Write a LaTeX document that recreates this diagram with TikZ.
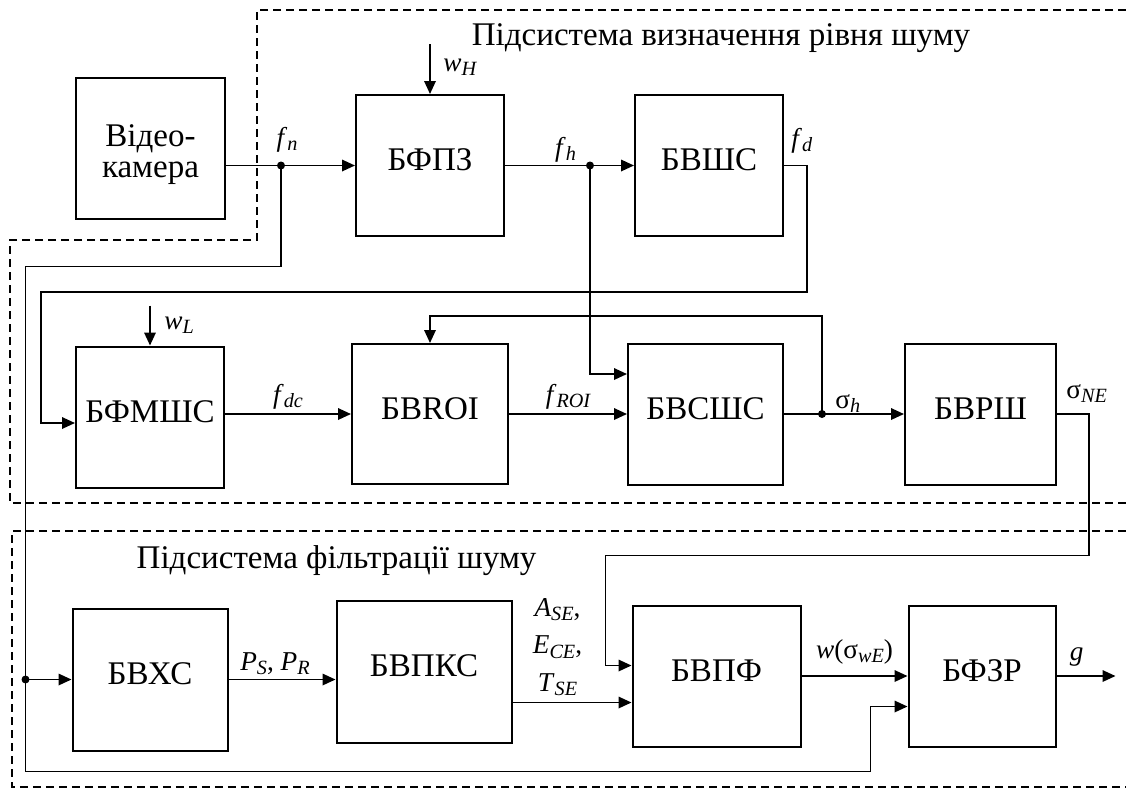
\documentclass[tikz,border=0pt]{standalone}
\usepackage{fontspec}
\setmainfont{Liberation Serif}
\usetikzlibrary{arrows.meta,positioning,calc}
\newcommand{\sbs}[1]{\raisebox{-0.15em}{\fontsize{11.5}{12}\selectfont\itshape #1}}
\newcommand{\sig}[2]{\textit{#1}\sbs{#2}}

\begin{document}
\begin{tikzpicture}[
  blok/.style={draw, line width=0.4mm, minimum width=29.6mm, minimum height=28.2mm, inner sep=0pt, font=\fontsize{18.8}{17.6}\selectfont, text height=4.6mm, text depth=2.6mm},
  camera/.style={draw, line width=0.4mm, minimum width=29.8mm, minimum height=28.2mm, inner sep=0pt, align=center, font=\fontsize{18.8}{17.6}\selectfont},
  lbl/.style={inner sep=0.8mm, font=\fontsize{15.5}{21.3}\selectfont},
  title/.style={font=\fontsize{18.8}{20}\selectfont, anchor=base},
  arr/.style={-{Triangle[length=2.6mm,width=2.3mm]}, line width=0.35mm},
  frame/.style={dash pattern=on 1.6mm off 1mm, line width=0.3mm}
]
\useasboundingbox (0,0) rectangle (225.2mm,-157.8mm);

% subsystem frames
\draw[frame] (225.2mm,-2mm) -- (51.4mm,-2mm) -- (51.4mm,-48mm) -- (2mm,-48mm) -- (2mm,-100.6mm) -- (225.2mm,-100.6mm);
\draw[frame] (225.2mm,-106.2mm) -- (2.4mm,-106.2mm) -- (2.4mm,-157.4mm) -- (225.2mm,-157.4mm);
\node[title] (t1) at (144.2mm,-9mm) {Підсистема визначення рівня шуму};
\node[title] (t2) at (67.3mm,-113.6mm) {Підсистема фільтрації шуму};

% blocks
\node[blok] (bfpz) at (86mm,-33.1mm) {БФПЗ};
\node[camera, left=25.8mm of bfpz, yshift=3.4mm] (cam) {\rule{0pt}{6.8mm}Відео-\\камера};
\node[blok, right=25.8mm of bfpz] (bvshs) {БВШС};
\node[blok, minimum width=31.2mm, minimum height=28mm, below=21.2mm of bfpz] (bvroi) {БВROI};
\node[blok, left=25.2mm of bvroi, yshift=-0.6mm] (bfmshs) {БФМШС};
\node[blok, minimum width=31mm, right=23.6mm of bvroi] (bvsshs) {БВСШС};
\node[blok, minimum width=30.2mm, right=24mm of bvsshs] (bvrsh) {БВРШ};
\node[blok, minimum width=31mm, minimum height=28.4mm, below=23.8mm of bfmshs] (bvhs) {БВХС};
\node[blok, minimum width=35mm, minimum height=28.4mm, right=21.4mm of bvhs, yshift=1.6mm] (bvpks) {БВПКС};
\node[blok, minimum width=33.6mm, right=23.8mm of bvpks, yshift=-0.9mm] (bvpf) {БВПФ};
\node[blok, minimum width=29.4mm, right=21.2mm of bvpf] (bfzr) {БФЗР};

% points
\coordinate (fn) at ($(cam.east |- bfpz.west)+(11mm,0)$);
\coordinate (fh) at ($(bfpz.east)+(17mm,0)$);
\coordinate (sh) at ($(bvsshs.east)+(7.6mm,0)$);
\coordinate (split) at ($(bvhs.west)+(-9.2mm,0)$);
\coordinate (wh) at ($(bfpz.north)+(0,10mm)$);
\coordinate (wl) at ($(bfmshs.north)+(0,8mm)$);
\coordinate (din) at ($(bfmshs.west)+(0,-1.2mm)$);
\coordinate (sin) at ($(bvsshs.west)+(0,8mm)$);
\coordinate (nin) at ($(bvpf.west)+(0,2.1mm)$);
\coordinate (gin) at ($(bfzr.west)+(0,-6.1mm)$);
\coordinate (aout) at ($(bvpks.east)+(0,-6.2mm)$);
\coordinate (gout) at ($(bfzr.east)+(11.8mm,0)$);

% upper subsystem
\draw[arr] (cam.east |- bfpz.west) -- (bfpz.west);
\draw[arr] (wh) -- (bfpz.north);
\draw[arr] (bfpz.east) -- (bvshs.west |- bfpz.east);
\draw[arr] (fh) |- (sin);
\draw[arr] (bvshs.east) -- ++(4.6mm,0) |- ($(din)+(-6.8mm,26.2mm)$) |- (din);
\draw[arr] (wl) -- (bfmshs.north);
\draw[arr] (bfmshs.east |- bvroi.west) -- node[lbl, above] {\sig{f}{dc}} (bvroi.west);
\draw[arr] (bvroi.east) -- node[lbl, above] {\sig{f}{ROI}} (bvsshs.west);
\draw[arr] (bvsshs.east) -- (bvrsh.west);
\draw[arr] (sh) -- ++(0,19.6mm) -| (bvroi.north);

% lower subsystem
\draw[arr] (fn) -- ++(0,-20.2mm) -| (split) -- (bvhs.west);
\draw[arr] (split) -- ++(0,-18.4mm) -| ($(gin)+(-7.4mm,0)$) -- (gin);
\draw[arr] (bvrsh.east) -- ++(6.4mm,0) |- ($(nin)+(-5.2mm,22mm)$) |- (nin);
\draw[arr] (bvhs.east) -- node[lbl, above, xshift=-1.4mm] {\sig{P}{S}, \sig{P}{R}} (bvhs.east -| bvpks.west);
\draw[arr] (aout) -- node[lbl, above=0.4mm, xshift=-2.9mm, align=center] {\sig{A}{SE},\\\sig{E}{CE},\\\sig{T}{SE}} (aout -| bvpf.west);
\draw[arr] (bvpf.east) -- node[lbl, above=1.4mm] {\textit{w}(σ\sbs{wE})} (bfzr.west);
\draw[arr] (bfzr.east) -- (gout);

% junctions
\foreach \p in {fn,fh,sh,split} \fill (\p) circle (0.8mm);

% labels
\node[lbl, anchor=base] (lfn) at ($(fn)+(1.2mm,3.8mm)$) {\sig{f}{n}};
\node[lbl, anchor=base] (lfh) at ($(fh)+(-4.9mm,1.8mm)$) {\sig{f}{h}};
\node[lbl, anchor=base west] (lfd) at ($(bvshs.east)+(0.6mm,3.7mm)$) {\sig{f}{d}};
\node[lbl, anchor=base west] (lwh) at ($(bfpz.north)+(1.8mm,4.6mm)$) {\sig{w}{H}};
\node[lbl, anchor=base west] (lwl) at ($(bfmshs.north)+(2mm,3.2mm)$) {\sig{w}{L}};
\node[lbl, anchor=base west] (lsh) at ($(sh)+(1.8mm,1.2mm)$) {σ\sbs{h}};
\node[lbl, anchor=base west] (lsne) at ($(bvrsh.east)+(1mm,3.2mm)$) {σ\sbs{NE}};
\node[lbl, anchor=base west] (lg) at ($(bfzr.east)+(1.8mm,3.2mm)$) {\textit{g}};
\end{tikzpicture}
\end{document}
